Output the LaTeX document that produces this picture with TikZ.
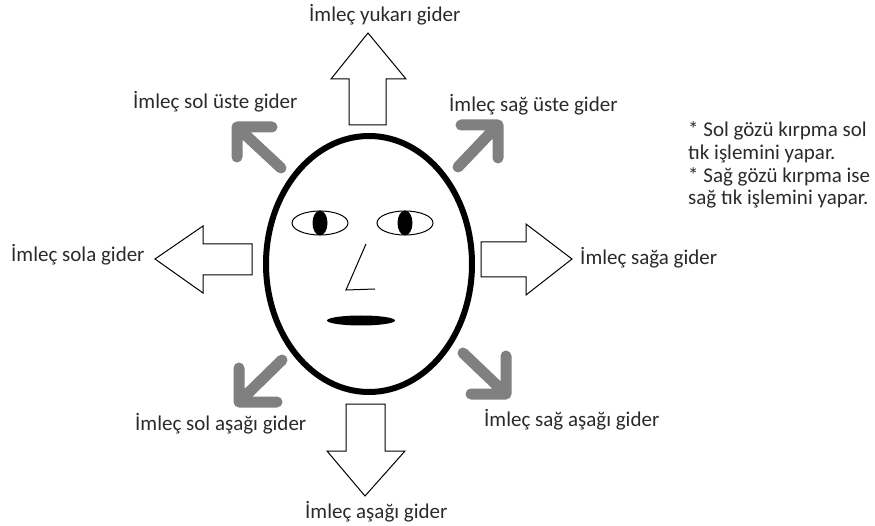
\documentclass[tikz,border=0pt]{standalone}
\usepackage{fontspec}
\setmainfont{Carlito}
\usetikzlibrary{positioning, shapes.geometric}
\definecolor{brushgray}{HTML}{808080}
\definecolor{inkgray}{HTML}{2A2A2A}

\begin{document}
\begin{tikzpicture}[
  x=1pt, y=-1pt,
  font=\fontsize{21}{22.7}\selectfont,
  caption/.style={anchor=base west, inner sep=0pt, text=inkgray},
  outline/.style={draw=black, line width=1pt, fill=white, line join=miter},
  brush/.style={draw=brushgray, line width=11pt, line cap=round, line join=round},
  eye/.style={draw=black, line width=1pt, ellipse, inner sep=0pt,
    minimum width=56pt, minimum height=24pt},
  pupil/.style={fill=black, ellipse, inner sep=0pt,
    minimum width=15pt, minimum height=25pt},
]
\useasboundingbox (0,0) rectangle (875,526);

% head
\node[draw=black, line width=6pt, ellipse, inner sep=0pt,
  minimum width=206pt, minimum height=256pt] (face) at (369,264) {};
\node[eye] (lefteye) at (320,223) {};
\node[eye] (righteye) at (405,223) {};
\node[pupil] (leftpupil) at (lefteye.center) {};
\node[pupil] (rightpupil) at (righteye.center) {};
\draw[line width=1pt] (366,244) -- (346,290) -- (375,289);
\node[fill=black, ellipse, inner sep=0pt, minimum width=68pt,
  minimum height=10pt] (mouth) at (361,320.5) {};

% straight moves
\draw[outline] (349,125) -- (349,79) -- (331,79) -- (368,33)
  -- (406,79) -- (386,79) -- (386,125) -- cycle;
\draw[outline] (346,404) -- (346,451) -- (327,451) -- (365,496)
  -- (405,451) -- (385,451) -- (385,404) -- cycle;
\draw[outline] (252,244) -- (203,244) -- (203,226) -- (155,259)
  -- (203,293) -- (203,275) -- (252,275) -- cycle;
\draw[outline] (481,242) -- (526,242) -- (526,224) -- (572,259)
  -- (526,295) -- (526,277) -- (481,277) -- cycle;

% diagonal moves
\draw[brush] (272,127) -- (237,127) -- (237,157) (281,168) -- (237,127);
\draw[brush] (461,125) -- (498,125) -- (498,158) (458,167) -- (498,125);
\draw[brush] (239,368) -- (239,402) -- (277,402) (282,360) -- (239,402);
\draw[brush] (506,356) -- (506,394) -- (471,394) (463,353) -- (506,394);

% labels
\node[caption] (up) at (309,22) {İmleç yukarı gider};
\node[caption] (upleft) at (133,109) {İmleç sol üste gider};
\node[caption] (upright) at (449,112) {İmleç sağ üste gider};
\node[caption] (left) at (11,262) {İmleç sola gider};
\node[caption] (right) at (580,265) {İmleç sağa gider};
\node[caption] (downleft) at (135,430) {İmleç sol aşağı gider};
\node[caption] (downright) at (484,426) {İmleç sağ aşağı gider};
\node[caption] (down) at (305,518) {İmleç aşağı gider};

% base of a multi-line node sits on its last line
\node[caption, align=left] (notes) at (688,205)
  {* Sol gözü kırpma sol\\tık işlemini yapar.\\* Sağ gözü kırpma ise\\sağ tık işlemini yapar.};
\end{tikzpicture}
\end{document}
